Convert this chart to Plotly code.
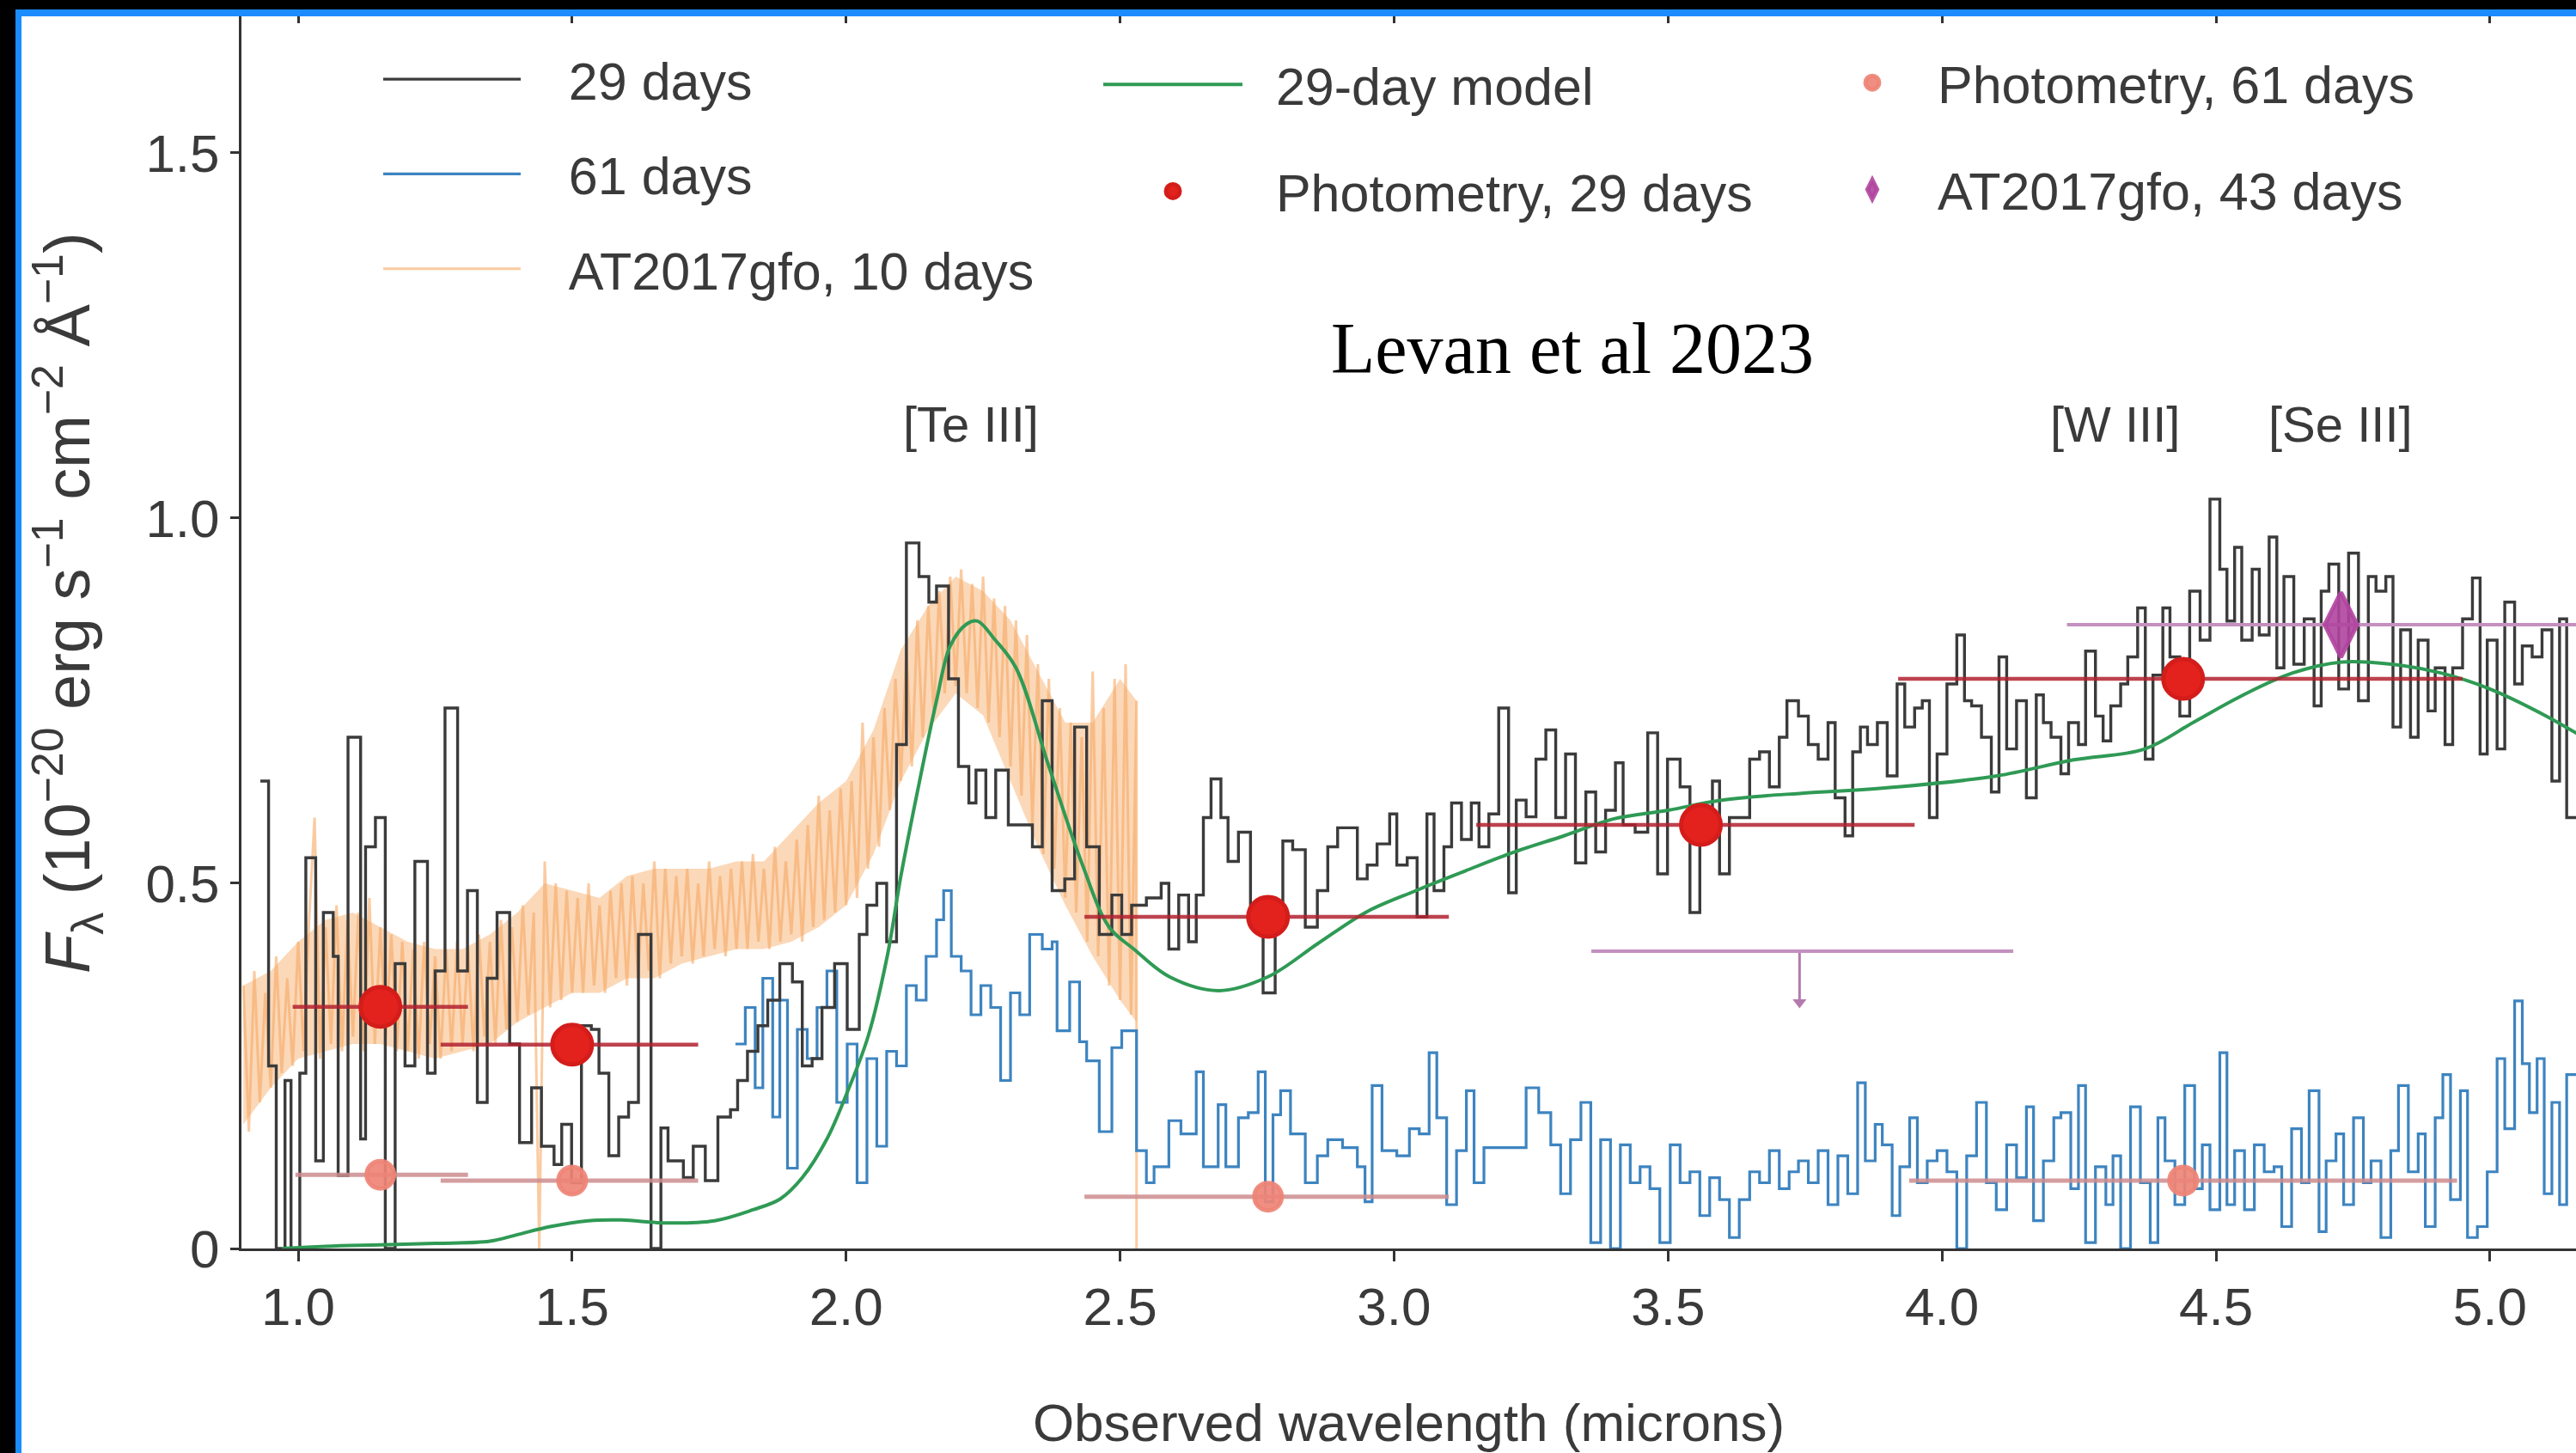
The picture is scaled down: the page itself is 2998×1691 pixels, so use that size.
import plotly.graph_objects as go

# ------------------------------------------------------------------ data
# JWST/NIRSpec 29-day spectrum: bin left edges (micron) and flux
wl_29 = [0.931, 0.946, 0.960, 0.976, 0.987, 1.003, 1.014, 1.032, 1.046, 1.064, 1.073, 1.091, 1.114, 1.123,
         1.141, 1.159, 1.177, 1.195, 1.213, 1.236, 1.250, 1.268, 1.291, 1.309, 1.327, 1.345, 1.363, 1.386,
         1.404, 1.426, 1.444, 1.467, 1.481, 1.499, 1.517, 1.535, 1.549, 1.567, 1.585, 1.603, 1.621, 1.644,
         1.662, 1.675, 1.703, 1.721, 1.743, 1.766, 1.789, 1.802, 1.820, 1.839, 1.857, 1.879, 1.902, 1.920,
         1.938, 1.956, 1.979, 2.002, 2.024, 2.038, 2.056, 2.074, 2.092, 2.110, 2.133, 2.151, 2.165, 2.187,
         2.205, 2.224, 2.237, 2.255, 2.273, 2.296, 2.340, 2.358, 2.376, 2.399, 2.417, 2.439, 2.462, 2.485,
         2.503, 2.521, 2.548, 2.575, 2.589, 2.607, 2.625, 2.639, 2.652, 2.666, 2.684, 2.697, 2.716, 2.738,
         2.761, 2.783, 2.797, 2.815, 2.838, 2.860, 2.879, 2.897, 2.933, 2.951, 2.969, 2.992, 3.005, 3.024,
         3.042, 3.060, 3.073, 3.091, 3.105, 3.123, 3.141, 3.155, 3.173, 3.191, 3.209, 3.223, 3.241, 3.259,
         3.277, 3.295, 3.313, 3.331, 3.350, 3.368, 3.386, 3.404, 3.418, 3.440, 3.463, 3.481, 3.499, 3.522,
         3.540, 3.558, 3.581, 3.594, 3.612, 3.649, 3.667, 3.685, 3.703, 3.717, 3.738, 3.756, 3.774, 3.792,
         3.805, 3.823, 3.837, 3.851, 3.864, 3.882, 3.900, 3.918, 3.932, 3.950, 3.964, 3.977, 3.991, 4.009,
         4.027, 4.041, 4.054, 4.072, 4.090, 4.104, 4.118, 4.136, 4.154, 4.172, 4.185, 4.199, 4.217, 4.231,
         4.249, 4.262, 4.280, 4.294, 4.308, 4.326, 4.339, 4.357, 4.371, 4.385, 4.403, 4.416, 4.434, 4.452,
         4.471, 4.489, 4.507, 4.520, 4.534, 4.547, 4.566, 4.579, 4.597, 4.611, 4.624, 4.642, 4.661, 4.679,
         4.692, 4.706, 4.724, 4.742, 4.760, 4.778, 4.792, 4.810, 4.823, 4.837, 4.855, 4.869, 4.887, 4.900,
         4.918, 4.932, 4.950, 4.968, 4.982, 4.995, 5.013, 5.027, 5.045, 5.059, 5.077, 5.095, 5.113, 5.127,
         5.140]
flux_29 = [0.64, 0.25, 0.00, 0.23, 0.00, 0.24, 0.535, 0.12, 0.46, 0.40, 0.10, 0.70, 0.15, 0.55,
           0.59, 0.00, 0.39, 0.25, 0.53, 0.24, 0.38, 0.74, 0.38, 0.49, 0.20, 0.37, 0.46, 0.28,
           0.145, 0.22, 0.14, 0.115, 0.17, 0.09, 0.305, 0.30, 0.24, 0.127, 0.18, 0.20, 0.43, 0.00,
           0.165, 0.12, 0.097, 0.14, 0.093, 0.18, 0.19, 0.23, 0.27, 0.305, 0.34, 0.39, 0.365, 0.25,
           0.26, 0.33, 0.39, 0.30, 0.43, 0.47, 0.50, 0.42, 0.69, 0.966, 0.92, 0.885, 0.907, 0.78,
           0.66, 0.61, 0.655, 0.59, 0.655, 0.58, 0.55, 0.75, 0.49, 0.506, 0.714, 0.55, 0.43, 0.484,
           0.43, 0.47, 0.48, 0.50, 0.41, 0.484, 0.42, 0.484, 0.59, 0.643, 0.59, 0.53, 0.57, 0.454,
           0.35, 0.47, 0.558, 0.546, 0.44, 0.49, 0.55, 0.576, 0.506, 0.525, 0.554, 0.595, 0.525, 0.535,
           0.454, 0.595, 0.49, 0.55, 0.61, 0.56, 0.61, 0.55, 0.595, 0.74, 0.487, 0.614, 0.591, 0.67,
           0.71, 0.59, 0.677, 0.528, 0.625, 0.543, 0.60, 0.665, 0.58, 0.57, 0.706, 0.513, 0.67, 0.632,
           0.46, 0.57, 0.64, 0.513, 0.59, 0.67, 0.68, 0.632, 0.70, 0.75, 0.729, 0.69, 0.67, 0.72,
           0.617, 0.565, 0.68, 0.714, 0.69, 0.72, 0.647, 0.773, 0.714, 0.74, 0.75, 0.59, 0.677, 0.773,
           0.84, 0.75, 0.743, 0.70, 0.625, 0.81, 0.684, 0.75, 0.617, 0.758, 0.72, 0.70, 0.65, 0.72,
           0.69, 0.818, 0.729, 0.695, 0.743, 0.773, 0.81, 0.877, 0.67, 0.785, 0.877, 0.81, 0.729, 0.90,
           0.833, 1.026, 0.93, 0.859, 0.96, 0.833, 0.93, 0.84, 0.974, 0.795, 0.92, 0.80, 0.862, 0.743,
           0.90, 0.937, 0.766, 0.952, 0.75, 0.92, 0.90, 0.92, 0.714, 0.847, 0.70, 0.833, 0.736, 0.795,
           0.69, 0.795, 0.862, 0.918, 0.677, 0.833, 0.684, 0.885, 0.773, 0.825, 0.81, 0.847, 0.64, 0.862,
           0.59]

# 61-day spectrum: bin left edges (micron) and flux
wl_61 = [1.798, 1.816, 1.834, 1.848, 1.866, 1.879, 1.893, 1.911, 1.929, 1.947, 1.965, 1.983, 2.002, 2.020,
         2.038, 2.056, 2.074, 2.092, 2.110, 2.128, 2.146, 2.165, 2.178, 2.192, 2.210, 2.228, 2.246, 2.264,
         2.282, 2.300, 2.317, 2.335, 2.358, 2.376, 2.385, 2.408, 2.426, 2.439, 2.462, 2.485, 2.503, 2.530,
         2.548, 2.562, 2.589, 2.611, 2.639, 2.652, 2.679, 2.693, 2.716, 2.734, 2.752, 2.765, 2.779, 2.793,
         2.811, 2.838, 2.860, 2.879, 2.906, 2.933, 2.947, 2.960, 2.978, 3.005, 3.028, 3.046, 3.064, 3.078,
         3.096, 3.114, 3.132, 3.146, 3.164, 3.241, 3.264, 3.286, 3.304, 3.322, 3.341, 3.359, 3.377, 3.395,
         3.413, 3.431, 3.449, 3.467, 3.485, 3.504, 3.522, 3.540, 3.558, 3.576, 3.594, 3.612, 3.630, 3.649,
         3.667, 3.685, 3.703, 3.721, 3.738, 3.756, 3.774, 3.792, 3.810, 3.828, 3.846, 3.860, 3.878, 3.891,
         3.909, 3.923, 3.941, 3.955, 3.973, 3.991, 4.009, 4.027, 4.045, 4.063, 4.081, 4.099, 4.118, 4.136,
         4.154, 4.167, 4.185, 4.204, 4.217, 4.235, 4.249, 4.262, 4.280, 4.299, 4.312, 4.326, 4.344, 4.362,
         4.380, 4.394, 4.407, 4.425, 4.443, 4.461, 4.475, 4.489, 4.507, 4.520, 4.534, 4.552, 4.570, 4.588,
         4.606, 4.620, 4.638, 4.656, 4.670, 4.688, 4.701, 4.719, 4.733, 4.751, 4.769, 4.783, 4.801, 4.819,
         4.833, 4.851, 4.869, 4.882, 4.900, 4.914, 4.928, 4.946, 4.959, 4.977, 4.995, 5.013, 5.027, 5.045,
         5.059, 5.072, 5.086, 5.099, 5.113, 5.127, 5.140]
flux_61 = [0.28, 0.33, 0.22, 0.37, 0.18, 0.34, 0.11, 0.30, 0.26, 0.33, 0.38, 0.20, 0.28, 0.09,
           0.26, 0.14, 0.27, 0.25, 0.36, 0.34, 0.40, 0.45, 0.49, 0.40, 0.38, 0.32, 0.36, 0.33,
           0.23, 0.35, 0.32, 0.43, 0.41, 0.42, 0.298, 0.365, 0.283, 0.257, 0.16, 0.275, 0.298, 0.134,
           0.09, 0.112, 0.175, 0.157, 0.242, 0.112, 0.197, 0.112, 0.179, 0.186, 0.242, 0.064, 0.183, 0.216,
           0.157, 0.09, 0.127, 0.149, 0.138, 0.112, 0.064, 0.223, 0.134, 0.127, 0.164, 0.157, 0.268, 0.179,
           0.06, 0.134, 0.216, 0.09, 0.138, 0.22, 0.186, 0.142, 0.075, 0.149, 0.20, 0.008, 0.149, 0.00,
           0.142, 0.09, 0.112, 0.082, 0.008, 0.142, 0.09, 0.105, 0.045, 0.097, 0.067, 0.015, 0.067, 0.105,
           0.09, 0.134, 0.082, 0.105, 0.12, 0.09, 0.134, 0.06, 0.127, 0.075, 0.227, 0.12, 0.17, 0.142,
           0.045, 0.112, 0.179, 0.09, 0.12, 0.134, 0.105, 0.00, 0.127, 0.20, 0.09, 0.053, 0.142, 0.097,
           0.194, 0.038, 0.12, 0.179, 0.186, 0.082, 0.223, 0.008, 0.112, 0.06, 0.127, 0.00, 0.194, 0.09,
           0.008, 0.179, 0.12, 0.06, 0.223, 0.082, 0.142, 0.053, 0.268, 0.06, 0.134, 0.053, 0.142, 0.105,
           0.112, 0.03, 0.164, 0.09, 0.216, 0.023, 0.12, 0.157, 0.06, 0.179, 0.09, 0.12, 0.015, 0.134,
           0.223, 0.105, 0.157, 0.03, 0.179, 0.238, 0.067, 0.216, 0.015, 0.03, 0.105, 0.26, 0.164, 0.339,
           0.253, 0.186, 0.26, 0.075, 0.20, 0.06, 0.238]
spec_end_wl = 5.17

# AT2017gfo at 10 days (noisy spectrum, micron / flux)
wl_gfo10 = [0.90, 0.91, 0.92, 0.93, 0.94, 0.95, 0.96, 0.97, 0.98, 0.99,
            1.00, 1.01, 1.02, 1.03, 1.04, 1.05, 1.06, 1.07, 1.08, 1.09,
            1.10, 1.11, 1.12, 1.13, 1.14, 1.15, 1.16, 1.17, 1.18, 1.19,
            1.20, 1.21, 1.22, 1.23, 1.24, 1.25, 1.26, 1.27, 1.28, 1.29,
            1.30, 1.31, 1.32, 1.33, 1.34, 1.35, 1.36, 1.37, 1.38, 1.39,
            1.40, 1.41, 1.42, 1.43, 1.44, 1.45, 1.46, 1.47, 1.48, 1.49,
            1.50, 1.51, 1.52, 1.53, 1.54, 1.55, 1.56, 1.57, 1.58, 1.59,
            1.60, 1.61, 1.62, 1.63, 1.64, 1.65, 1.66, 1.67, 1.68, 1.69,
            1.70, 1.71, 1.72, 1.73, 1.74, 1.75, 1.76, 1.77, 1.78, 1.79,
            1.80, 1.81, 1.82, 1.83, 1.84, 1.85, 1.86, 1.87, 1.88, 1.89,
            1.90, 1.91, 1.92, 1.93, 1.94, 1.95, 1.96, 1.97, 1.98, 1.99,
            2.00, 2.01, 2.02, 2.03, 2.04, 2.05, 2.06, 2.07, 2.08, 2.09,
            2.10, 2.11, 2.12, 2.13, 2.14, 2.15, 2.16, 2.17, 2.18, 2.19,
            2.20, 2.21, 2.22, 2.23, 2.24, 2.25, 2.26, 2.27, 2.28, 2.29,
            2.30, 2.31, 2.32, 2.33, 2.34, 2.35, 2.36, 2.37, 2.38, 2.39,
            2.40, 2.41, 2.42, 2.43, 2.44, 2.45, 2.46, 2.47, 2.48, 2.49,
            2.50, 2.51, 2.52, 2.53, 2.53]
flux_gfo10 = [0.36, 0.16, 0.38, 0.20, 0.35, 0.22, 0.40, 0.24, 0.37, 0.25,
              0.42, 0.27, 0.45, 0.59, 0.26, 0.44, 0.28, 0.47, 0.27, 0.45,
              0.29, 0.46, 0.27, 0.48, 0.28, 0.44, 0.29, 0.43, 0.27, 0.42,
              0.27, 0.41, 0.26, 0.42, 0.28, 0.40, 0.26, 0.41, 0.27, 0.42,
              0.28, 0.41, 0.27, 0.43, 0.29, 0.42, 0.28, 0.45, 0.30, 0.44,
              0.31, 0.47, 0.32, 0.46, 0.00, 0.53, 0.33, 0.50, 0.34, 0.49,
              0.35, 0.48, 0.35, 0.50, 0.36, 0.47, 0.35, 0.49, 0.37, 0.50,
              0.36, 0.51, 0.37, 0.50, 0.38, 0.53, 0.37, 0.52, 0.39, 0.51,
              0.40, 0.52, 0.39, 0.50, 0.40, 0.53, 0.41, 0.51, 0.40, 0.52,
              0.41, 0.53, 0.41, 0.54, 0.42, 0.52, 0.41, 0.55, 0.42, 0.53,
              0.43, 0.56, 0.42, 0.58, 0.44, 0.62, 0.45, 0.60, 0.46, 0.63,
              0.47, 0.64, 0.48, 0.72, 0.52, 0.70, 0.55, 0.74, 0.60, 0.78,
              0.64, 0.82, 0.66, 0.86, 0.70, 0.88, 0.73, 0.90, 0.76, 0.92,
              0.77, 0.93, 0.76, 0.91, 0.74, 0.92, 0.72, 0.89, 0.70, 0.88,
              0.66, 0.86, 0.62, 0.84, 0.58, 0.80, 0.54, 0.78, 0.52, 0.74,
              0.48, 0.72, 0.46, 0.70, 0.42, 0.79, 0.40, 0.74, 0.36, 0.78,
              0.34, 0.80, 0.32, 0.75, 0.00]
# envelope of the AT2017gfo noise band
wl_gfo10_band = [0.90, 0.95, 1.00, 1.05, 1.10, 1.15, 1.20, 1.25, 1.30, 1.35, 1.40, 1.45, 1.50, 1.55, 1.60,
                 1.65, 1.70, 1.75, 1.80, 1.85, 1.90, 1.95, 2.00, 2.05, 2.10, 2.15, 2.20, 2.25, 2.30, 2.35,
                 2.40, 2.45, 2.50, 2.53]
gfo10_band_lo = [0.17, 0.22, 0.26, 0.27, 0.28, 0.28, 0.27, 0.26, 0.27, 0.28, 0.31, 0.33, 0.35, 0.35, 0.37,
                 0.37, 0.39, 0.40, 0.41, 0.41, 0.42, 0.44, 0.47, 0.54, 0.64, 0.71, 0.76, 0.73, 0.64, 0.55,
                 0.47, 0.40, 0.34, 0.31]
gfo10_band_hi = [0.36, 0.38, 0.42, 0.45, 0.46, 0.44, 0.42, 0.41, 0.41, 0.43, 0.46, 0.50, 0.49, 0.48, 0.51,
                 0.52, 0.52, 0.52, 0.53, 0.53, 0.57, 0.61, 0.64, 0.71, 0.82, 0.88, 0.92, 0.90, 0.86, 0.79,
                 0.72, 0.72, 0.78, 0.75]

# 29-day model (smooth)
wl_model = [0.97, 1.05, 1.15, 1.25, 1.35, 1.40, 1.46, 1.53, 1.59, 1.67, 1.76, 1.83, 1.88, 1.92, 1.965,
            2.00, 2.04, 2.075, 2.10, 2.13, 2.165, 2.19, 2.22, 2.24, 2.27, 2.31, 2.37, 2.43, 2.48, 2.525,
            2.59, 2.68, 2.77, 2.86, 2.95, 3.04, 3.13, 3.22, 3.31, 3.40, 3.50, 3.59, 3.68, 3.74, 3.92,
            4.10, 4.24, 4.37, 4.46, 4.55, 4.64, 4.73, 4.82, 4.91, 5.00, 5.10, 5.17]
flux_model = [0.0, 0.003, 0.005, 0.007, 0.010, 0.019, 0.030, 0.038, 0.039, 0.035, 0.038, 0.053, 0.068, 0.097, 0.150,
              0.21, 0.29, 0.40, 0.51, 0.625, 0.75, 0.825, 0.855, 0.859, 0.835, 0.795, 0.66, 0.528, 0.44, 0.41,
              0.372, 0.353, 0.372, 0.417, 0.461, 0.49, 0.517, 0.543, 0.565, 0.588, 0.60, 0.613, 0.62, 0.623, 0.632,
              0.647, 0.669, 0.684, 0.721, 0.758, 0.788, 0.803, 0.80, 0.788, 0.766, 0.73, 0.70]

# photometry, 29 days (wavelength, flux, filter half-widths)
phot29_wl = [1.15, 1.50, 2.77, 3.56, 4.44]
phot29_flux = [0.331, 0.279, 0.454, 0.58, 0.78]
phot29_wl_lo = [0.16, 0.24, 0.335, 0.41, 0.52]
phot29_wl_hi = [0.16, 0.23, 0.33, 0.39, 0.51]

# photometry, 61 days
phot61_wl = [1.15, 1.50, 2.77, 4.44]
phot61_flux = [0.101, 0.093, 0.071, 0.093]
phot61_wl_lo = [0.155, 0.24, 0.335, 0.50]
phot61_wl_hi = [0.16, 0.23, 0.33, 0.50]

# AT2017gfo, 43 days (Spitzer): detection and upper limit
gfo43_wl = [4.728]
gfo43_flux = [0.854]
gfo43_wl_lo = [0.50]
gfo43_wl_hi = [0.49]
gfo43_ul_wl = [3.74]
gfo43_ul_flux = [0.407]
gfo43_ul_wl_lo = [0.38]
gfo43_ul_wl_hi = [0.39]

# line identifications
line_names = ["[Te III]", "[W III]", "[Se III]"]
line_wl = [2.228, 4.315, 4.728]

x_ticks = [1.0, 1.5, 2.0, 2.5, 3.0, 3.5, 4.0, 4.5, 5.0]
x_ticktext = ["1.0", "1.5", "2.0", "2.5", "3.0", "3.5", "4.0", "4.5", "5.0"]
y_ticks = [0, 0.5, 1.0, 1.5]
y_ticktext = ["0", "0.5", "1.0", "1.5"]

# ------------------------------------------------------------------ style / layout constants
W, H = 2998, 1691
ML, MR, MT, MB = 281, 0, 19, 238
PW, PH = W - ML - MR, H - MT - MB
XR = [0.8965, 5.157]
YR = [0.0, 1.687]
TXT = "#3a3a3a"
FONT = "Liberation Sans, Arial, Helvetica, sans-serif"
ARROW_LEN = 0.07
NB = "\u00a0"


def px_x(px):
    return (px - ML) / PW


def px_y(py):
    return (H - MB - py) / PH


def steps(edges, vals, end):
    return list(edges) + [end], list(vals) + [vals[-1]]


fig = go.Figure()

# AT2017gfo 10 days: noise band + noisy line
fig.add_trace(go.Scatter(
    x=wl_gfo10_band, y=gfo10_band_lo, mode="lines", line=dict(width=0, color="rgba(0,0,0,0)"),
    showlegend=False, legendgroup="g3", hoverinfo="skip"))
fig.add_trace(go.Scatter(
    x=wl_gfo10_band, y=gfo10_band_hi, mode="lines", line=dict(width=0, color="rgba(0,0,0,0)"),
    fill="tonexty", fillcolor="rgba(248,180,118,0.52)",
    showlegend=False, legendgroup="g3", hoverinfo="skip"))
fig.add_trace(go.Scatter(
    x=wl_gfo10, y=flux_gfo10, mode="lines", name=NB * 3 + "AT2017gfo, 10 days",
    line=dict(color="rgba(247,168,98,0.6)", width=3),
    legend="legend", legendgroup="g3", legendrank=3, hoverinfo="skip"))

# 61 days
x61, y61 = steps(wl_61, flux_61, spec_end_wl)
fig.add_trace(go.Scatter(
    x=x61, y=y61, mode="lines", name=NB * 3 + "61 days", line_shape="hv",
    line=dict(color="#3d84c0", width=3.2),
    legend="legend", legendgroup="g2", legendrank=2, hoverinfo="skip"))

# 29 days
x29, y29 = steps(wl_29, flux_29, spec_end_wl)
fig.add_trace(go.Scatter(
    x=x29, y=y29, mode="lines", name=NB * 3 + "29 days", line_shape="hv",
    line=dict(color="#3b3b3b", width=3.4),
    legend="legend", legendgroup="g1", legendrank=1, hoverinfo="skip"))

# model
fig.add_trace(go.Scatter(
    x=wl_model, y=flux_model, mode="lines", name=NB * 2 + "29-day model", line_shape="spline",
    line=dict(color="#2f9a55", width=4),
    legend="legend2", legendgroup="m1", legendrank=1, hoverinfo="skip"))

# photometry 61 days
fig.add_trace(go.Scatter(
    x=phot61_wl, y=phot61_flux, mode="markers", name="Photometry, 61 days",
    marker=dict(color="rgba(238,132,118,0.92)", size=32, line=dict(color="rgba(238,132,118,0.92)", width=5)),
    error_x=dict(type="data", symmetric=False, array=phot61_wl_hi, arrayminus=phot61_wl_lo,
                 color="rgba(205,140,142,0.85)", thickness=5, width=0),
    legend="legend3", legendgroup="p1", legendrank=1, hoverinfo="skip"))

# photometry 29 days
fig.add_trace(go.Scatter(
    x=phot29_wl, y=phot29_flux, mode="markers", name=NB * 2 + "Photometry, 29 days",
    marker=dict(color="#e3221d", size=46, line=dict(color="#d41d1a", width=5)),
    error_x=dict(type="data", symmetric=False, array=phot29_wl_hi, arrayminus=phot29_wl_lo,
                 color="rgba(178,34,48,0.85)", thickness=4.5, width=0),
    legend="legend2", legendgroup="m2", legendrank=2, hoverinfo="skip"))

# AT2017gfo 43 days upper limit (bar + downward arrow)
fig.add_trace(go.Scatter(
    x=gfo43_ul_wl, y=gfo43_ul_flux, mode="markers", showlegend=False,
    marker=dict(color="rgba(0,0,0,0)", size=1),
    error_x=dict(type="data", symmetric=False, array=gfo43_ul_wl_hi, arrayminus=gfo43_ul_wl_lo,
                 color="#c490c0", thickness=4, width=0),
    error_y=dict(type="data", symmetric=False, array=[0], arrayminus=[ARROW_LEN],
                 color="#b47aaf", thickness=3, width=0),
    hoverinfo="skip"))
fig.add_trace(go.Scatter(
    x=gfo43_ul_wl, y=[f - ARROW_LEN for f in gfo43_ul_flux], mode="markers", showlegend=False,
    marker=dict(symbol="triangle-down", color="#b47aaf", size=14), hoverinfo="skip"))

# AT2017gfo 43 days detection
fig.add_trace(go.Scatter(
    x=gfo43_wl, y=gfo43_flux, mode="markers", name="AT2017gfo, 43 days",
    marker=dict(symbol="diamond-tall", color="rgba(176,68,158,0.9)", size=54,
                line=dict(color="rgba(176,68,158,0.9)", width=5)),
    error_x=dict(type="data", symmetric=False, array=gfo43_wl_hi, arrayminus=gfo43_wl_lo,
                 color="#c490c0", thickness=4, width=0),
    legend="legend3", legendgroup="p2", legendrank=2, hoverinfo="skip"))

# dummy trace carrying the mirrored top axis
fig.add_trace(go.Scatter(x=[x_ticks[0]], y=[None], xaxis="x2", showlegend=False, hoverinfo="skip"))

# line identifications
for name, wl in zip(line_names, line_wl):
    fig.add_annotation(x=wl, y=1.129, text=name, showarrow=False, xanchor="center", yanchor="middle",
                       font=dict(family=FONT, size=58, color=TXT))

fig.add_annotation(x=px_x(1830), y=px_y(405), xref="paper", yref="paper", text="Levan et al 2023",
                   showarrow=False, xanchor="center", yanchor="middle",
                   font=dict(family="Liberation Serif, Times New Roman, serif", size=84, color="#000000"))

# y-axis title (placed as rotated text, as in the reference it sits above the plot centre)
fig.add_annotation(x=px_x(78), y=px_y(702), xref="paper", yref="paper", textangle=-90,
                   text="<i>F</i><sub>λ</sub> (10<sup>−20</sup> erg s<sup>−1</sup> cm<sup>−2</sup> Å<sup>−1</sup>)",
                   showarrow=False, xanchor="center", yanchor="middle",
                   font=dict(family=FONT, size=74, color=TXT))

# frame (black outer band + blue inner band on top and left)
frame = [
    (0, 0, 18, H, "#000000"),
    (18, 11, 25, H, "#1a8cff"),
    (0, 0, W, 11, "#000000"),
    (18, 11, W, 19, "#1a8cff"),
]
for x0, y0, x1, y1, c in frame:
    fig.add_shape(type="rect", xref="paper", yref="paper", x0=px_x(x0), x1=px_x(x1),
                  y0=px_y(y1), y1=px_y(y0), fillcolor=c, line=dict(width=0), layer="above")

legend_common = dict(xanchor="left", yanchor="top", bgcolor="rgba(0,0,0,0)", borderwidth=0,
                     traceorder="grouped", font=dict(family=FONT, size=61, color=TXT))

fig.update_layout(
    width=W, height=H,
    margin=dict(l=ML, r=MR, t=MT, b=MB, pad=0),
    paper_bgcolor="white", plot_bgcolor="white",
    font=dict(family=FONT, color=TXT),
    showlegend=True,
    legend=dict(x=px_x(441), y=px_y(46), itemwidth=160, tracegroupgap=28, **legend_common),
    legend2=dict(x=px_x(1279), y=px_y(52), itemwidth=162, tracegroupgap=42, **legend_common),
    legend3=dict(x=px_x(2103), y=px_y(50), itemwidth=142, tracegroupgap=42, **legend_common),
    xaxis=dict(range=XR, tickvals=x_ticks, ticktext=x_ticktext, ticks="outside", ticklen=12,
               tickwidth=3, tickcolor="#333333", showline=True, linecolor="#333333", linewidth=3,
               showgrid=False, zeroline=False, tickfont=dict(family=FONT, size=62, color=TXT),
               title=dict(text="Observed wavelength (microns)", standoff=80,
                          font=dict(family=FONT, size=62, color=TXT))),
    xaxis2=dict(overlaying="x", side="top", matches="x", range=XR, tickvals=x_ticks, ticks="inside",
                ticklen=8, tickwidth=3, tickcolor="#333333", showticklabels=False, showline=False,
                showgrid=False, zeroline=False),
    yaxis=dict(range=YR, tickvals=y_ticks, ticktext=y_ticktext, ticks="outside", ticklen=10,
               tickwidth=3, tickcolor="#333333", showline=True, linecolor="#333333", linewidth=3,
               showgrid=False, zeroline=False, tickfont=dict(family=FONT, size=62, color=TXT)),
)

fig.write_html("out.html")
